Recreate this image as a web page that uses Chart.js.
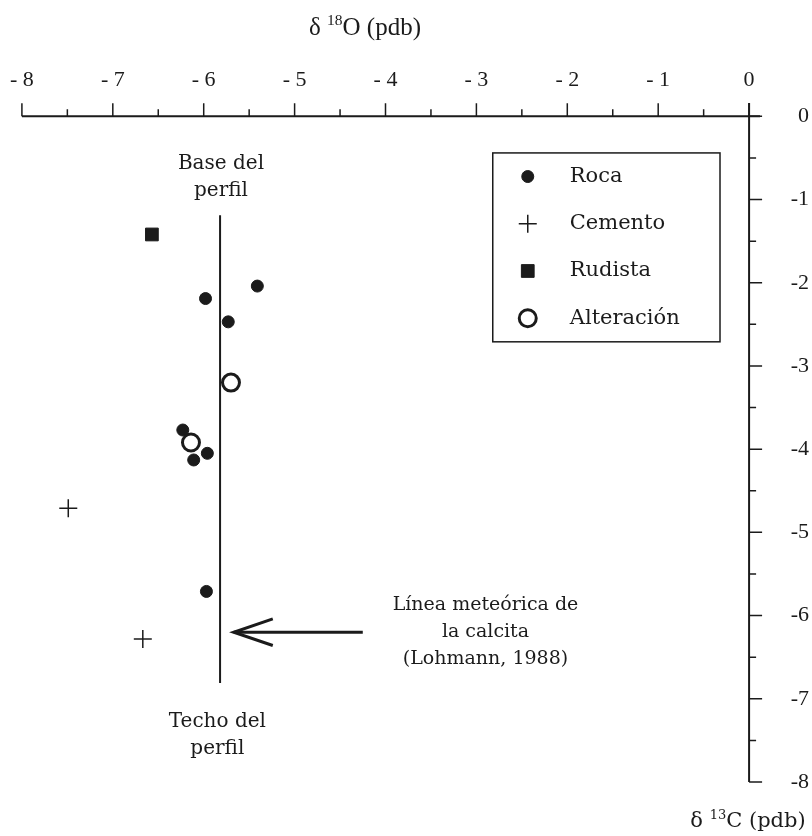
<!DOCTYPE html>
<html>
<head>
<meta charset="utf-8">
<script src="https://cdn.jsdelivr.net/npm/chart.js@4/dist/chart.umd.min.js"></script>
<style>
  html, body { margin: 0; padding: 0; background: #fff; }
</style>
</head>
<body>
<canvas id="isoChart" width="812" height="836"></canvas>
<script>
// values (d18O on x, d13C on y)
const rocaX = [-5.41, -5.98, -5.73, -6.23, -5.96, -6.11, -5.97];
const rocaY = [-2.04, -2.19, -2.47, -3.77, -4.05, -4.13, -5.71];
const cementoX = [-7.49, -6.67];
const cementoY = [-4.71, -6.28];
const rudistaX = [-6.57];
const rudistaY = [-1.42];
const alteracionX = [-5.70, -6.14];
const alteracionY = [-3.20, -3.92];

// meteoric calcite line and the arrow pointing at it
const meteoricX = [-5.82, -5.82];
const meteoricY = [-1.19, -6.81];
const arrowX = [-4.25, -5.67];
const arrowY = [-6.20, -6.20];
const arrowHeadX = [-5.24, -5.67, -5.24];
const arrowHeadY = [-6.04, -6.20, -6.36];

const xTicks = [-8, -7, -6, -5, -4, -3, -2, -1, 0];
const yTicks = [0, -1, -2, -3, -4, -5, -6, -7, -8];
const seriesNames = ['Roca', 'Cemento', 'Rudista', 'Alteración'];

const ink = '#1b1b1b';
const serif = "'Liberation Serif', 'Times New Roman', serif";
const wideSerif = "'DejaVu Serif', serif";

function pairs(xs, ys) {
    return xs.map(function(v, i) { return { x: v, y: ys[i] }; });
}

function drawSupText(ctx, parts, cx, cy, size, family) {
    // parts: [text, isSuperscript]
    let total = 0;
    const widths = parts.map(function(p) {
        ctx.font = (p[1] ? size * 0.62 : size) + 'px ' + family;
        const w = ctx.measureText(p[0]).width;
        total += w;
        return w;
    });
    let x = cx - total / 2;
    ctx.textAlign = 'left';
    ctx.textBaseline = 'middle';
    parts.forEach(function(p, i) {
        ctx.font = (p[1] ? size * 0.62 : size) + 'px ' + family;
        ctx.fillText(p[0], x, p[1] ? cy - size * 0.3 : cy);
        x += widths[i];
    });
}

const axesPlugin = {
    id: 'crossAxes',
    beforeDatasetsDraw(chart) {
        const ctx = chart.ctx;
        const xs = chart.scales.x;
        const ys = chart.scales.y;
        const x0 = xs.getPixelForValue(0);
        const y0 = ys.getPixelForValue(0);
        ctx.save();
        ctx.strokeStyle = ink;
        ctx.lineWidth = 2;
        ctx.beginPath();
        ctx.moveTo(xs.left, y0);
        ctx.lineTo(xs.right, y0);
        ctx.moveTo(x0, ys.top);
        ctx.lineTo(x0, ys.bottom);
        ctx.stroke();

        ctx.lineWidth = 1.5;
        ctx.beginPath();
        for (let v = xTicks[0]; v <= 0; v += 0.5) {
            const px = xs.getPixelForValue(v);
            const len = Number.isInteger(v) ? 13 : 7;
            ctx.moveTo(px, y0);
            ctx.lineTo(px, y0 - len);
        }
        for (let v = 0; v >= yTicks[yTicks.length - 1]; v -= 0.5) {
            const py = ys.getPixelForValue(v);
            const len = Number.isInteger(v) ? 13 : 7;
            ctx.moveTo(x0, py);
            ctx.lineTo(x0 + len, py);
        }
        ctx.stroke();
        ctx.restore();
    }
};

const notesPlugin = {
    id: 'notes',
    afterDraw(chart) {
        const ctx = chart.ctx;
        const xs = chart.scales.x;
        const ys = chart.scales.y;
        ctx.save();
        ctx.fillStyle = ink;

        // axis titles
        drawSupText(ctx, [['δ ', false], ['18', true], ['O (pdb)', false]], 365, 28, 25, serif);
        drawSupText(ctx, [['δ ', false], ['13', true], ['C (pdb)', false]], 748, 822, 21, wideSerif);

        // text notes, anchored in data units
        function note(lines, vx, vy, size) {
            const cx = xs.getPixelForValue(vx);
            let cy = ys.getPixelForValue(vy);
            ctx.font = size + 'px ' + wideSerif;
            ctx.textAlign = 'center';
            ctx.textBaseline = 'middle';
            lines.forEach(function(t) {
                ctx.fillText(t, cx, cy);
                cy += 27;
            });
        }
        note(['Base del', 'perfil'], -5.81, -0.565, 20);
        note(['Techo del', 'perfil'], -5.85, -7.28, 20);
        note(['Línea meteórica de', 'la calcita', '(Lohmann, 1988)'], -2.90, -5.87, 19);

        // legend box
        const left = xs.getPixelForValue(-2.82);
        const right = xs.getPixelForValue(-0.32);
        const top = ys.getPixelForValue(-0.44);
        const bottom = ys.getPixelForValue(-2.71);
        ctx.strokeStyle = ink;
        ctx.lineWidth = 1.5;
        ctx.strokeRect(left, top, right - left, bottom - top);

        const rowGap = (bottom - top) / seriesNames.length;
        for (let i = 0; i < seriesNames.length; i++) {
            const ds = chart.data.datasets[i];
            const cy = top + rowGap * (i + 0.5);
            ctx.fillStyle = ds.backgroundColor;
            ctx.strokeStyle = ds.borderColor;
            ctx.lineWidth = ds.borderWidth;
            Chart.helpers.drawPoint(ctx, {
                pointStyle: ds.pointStyle,
                radius: ds.pointRadius,
                borderWidth: ds.borderWidth,
                rotation: 0
            }, left + 35, cy);
            ctx.fillStyle = ink;
            ctx.font = '21px ' + wideSerif;
            ctx.textAlign = 'left';
            ctx.textBaseline = 'middle';
            ctx.fillText(ds.label, left + 77, cy);
        }
        ctx.restore();
    }
};

const lineStyle = { showLine: true, pointRadius: 0, borderColor: ink, backgroundColor: ink, fill: false };

new Chart(document.getElementById('isoChart'), {
    type: 'scatter',
    data: {
        datasets: [
            { label: seriesNames[0], data: pairs(rocaX, rocaY), pointStyle: 'circle', pointRadius: 6,
              backgroundColor: ink, borderColor: ink, borderWidth: 1, order: 1 },
            { label: seriesNames[1], data: pairs(cementoX, cementoY), pointStyle: 'cross', pointRadius: 9,
              backgroundColor: ink, borderColor: ink, borderWidth: 1.5, order: 1 },
            { label: seriesNames[2], data: pairs(rudistaX, rudistaY), pointStyle: 'rect', pointRadius: 9,
              backgroundColor: ink, borderColor: ink, borderWidth: 1, order: 1 },
            { label: seriesNames[3], data: pairs(alteracionX, alteracionY), pointStyle: 'circle', pointRadius: 8.5,
              backgroundColor: '#ffffff', borderColor: ink, borderWidth: 3, order: 0 },
            Object.assign({ label: 'meteoric', data: pairs(meteoricX, meteoricY), borderWidth: 2, order: 5 }, lineStyle),
            Object.assign({ label: 'arrow', data: pairs(arrowX, arrowY), borderWidth: 3, order: 5 }, lineStyle),
            Object.assign({ label: 'arrowHead', data: pairs(arrowHeadX, arrowHeadY), borderWidth: 3, order: 5 }, lineStyle)
        ]
    },
    options: {
        responsive: false,
        animation: false,
        devicePixelRatio: 1,
        events: [],
        layout: { padding: { left: 21, right: 3, top: 0, bottom: 54 } },
        plugins: {
            legend: { display: false },
            tooltip: { enabled: false }
        },
        scales: {
            x: {
                type: 'linear',
                position: 'top',
                min: -8,
                max: 0.12,
                afterBuildTicks: function(scale) {
                    scale.ticks = xTicks.map(function(v) { return { value: v }; });
                },
                afterFit: function(scale) { scale.height = 103; },
                grid: { display: false, drawTicks: false },
                border: { display: false },
                ticks: {
                    color: ink,
                    padding: 10,
                    maxRotation: 0,
                    autoSkip: false,
                    font: { family: serif, size: 22 },
                    callback: function(v) { return v === 0 ? '0' : '- ' + Math.abs(v); }
                }
            },
            y: {
                type: 'linear',
                position: 'right',
                min: -8,
                max: 0.16,
                afterBuildTicks: function(scale) {
                    scale.ticks = yTicks.map(function(v) { return { value: v }; });
                },
                afterFit: function(scale) { scale.width = 49; },
                grid: { display: false, drawTicks: false },
                border: { display: false },
                ticks: {
                    color: ink,
                    padding: 31,
                    crossAlign: 'far',
                    autoSkip: false,
                    font: { family: serif, size: 22 },
                    callback: function(v) { return String(v); }
                }
            }
        }
    },
    plugins: [axesPlugin, notesPlugin]
});
</script>
</body>
</html>
